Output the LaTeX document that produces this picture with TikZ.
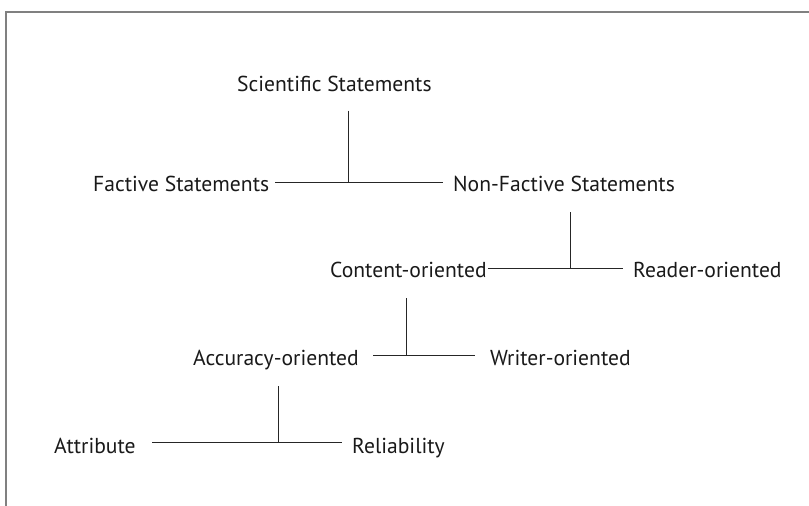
\documentclass[tikz,border=0pt]{standalone}
\usepackage{fontspec}
\setmainfont{PT Sans}
\begin{document}
\begin{tikzpicture}[x=1pt,y=-1pt,
  term/.style={anchor=west, inner sep=0pt, text height=15pt, text depth=0pt,
               font=\fontsize{21.6}{24}\selectfont, text=black!90},
  link/.style={line width=1pt, draw=black!85},
  frame/.style={line width=1.6pt, draw=black!50}]
  \useasboundingbox (0,0) rectangle (809,506);
  % page frame: top and left edges only
  \draw[frame] (809,12) -- (6,12) -- (6,506);

  % terms
  \node[term] (sci)      at (237,83.5) {Scientific Statements};
  \node[term] (fact)     at (93,184)   {Factive Statements};
  \node[term] (nonfact)  at (453,184)  {Non-Factive Statements};
  \node[term] (content)  at (330,270)  {Content-oriented};
  \node[term] (reader)   at (633,270)  {Reader-oriented};
  \node[term] (accuracy) at (193,358)  {Accuracy-oriented};
  \node[term] (writer)   at (490,358)  {Writer-oriented};
  \node[term] (attr)     at (54,446)   {Attribute};
  \node[term] (reliab)   at (352,446)  {Reliability};

  % junctions where each stem meets its bar
  \coordinate (j1) at (348,182);
  \coordinate (j2) at (570,268);
  \coordinate (j3) at (406,355);
  \coordinate (j4) at (278,442);

  % stems, hanging below each parent term
  \draw[link] (j1 |- sci.south) ++(0,19.5) -- (j1);
  \draw[link] (j2 |- nonfact.south) ++(0,20.5) -- (j2);
  \draw[link] (j3 |- content.south) ++(0,20.5) -- (j3);
  \draw[link] (j4 |- accuracy.south) ++(0,20.5) -- (j4);

  % bars joining each pair of child terms
  \draw[link] ([xshift=6pt]fact.east |- j1) -- ([xshift=-10pt]nonfact.west |- j1);
  \draw[link] ([xshift=1pt]content.east |- j2) -- ([xshift=-10pt]reader.west |- j2);
  \draw[link] ([xshift=-33pt]j3) -- ([xshift=-15pt]writer.west |- j3);
  \draw[link] ([xshift=-126pt]j4) -- ([xshift=-10pt]reliab.west |- j4);
\end{tikzpicture}
\end{document}
